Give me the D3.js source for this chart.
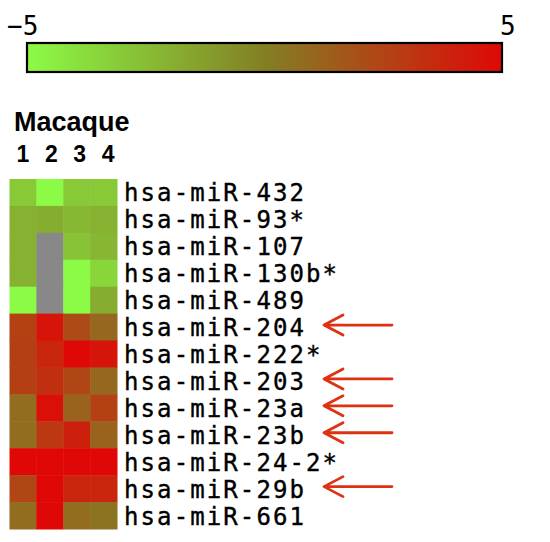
<!DOCTYPE html>
<html>
<head>
<meta charset="utf-8">
<title>Macaque miRNA heatmap</title>
<style>
  body { margin: 0; background: white; }
  svg { display: block; }
  .lbl { font-family: "DejaVu Sans Mono", monospace; font-size: 24px; fill: black; stroke: black; stroke-width: 0.4px; letter-spacing: 2.1px; }
  .title { font-family: "Liberation Sans", Arial, sans-serif; font-weight: bold; fill: black; }
</style>
</head>
<body>
<svg id="chart" width="550" height="542"></svg>
<script src="https://d3js.org/d3.v7.min.js"></script>
<script>
// rows (miRNAs), columns (macaque samples), log ratio values; null = missing
var mirnas = ["hsa-miR-432", "hsa-miR-93*", "hsa-miR-107", "hsa-miR-130b*", "hsa-miR-489",
              "hsa-miR-204", "hsa-miR-222*", "hsa-miR-203", "hsa-miR-23a", "hsa-miR-23b",
              "hsa-miR-24-2*", "hsa-miR-29b", "hsa-miR-661"];
var samples = ["1", "2", "3", "4"];
var values = [
    [-3.0, -5.0, -3.0, -3.0],
    [-2.0, -1.8, -2.3, -2.0],
    [-2.0, null, -2.7, -2.2],
    [-2.0, null, -5.0, -3.5],
    [-5.0, null, -5.0, -1.8],
    [ 2.6,  4.5,  2.2,  1.0],
    [ 2.7,  3.8,  5.0,  4.5],
    [ 2.7,  3.3,  2.4,  1.0],
    [ 0.8,  4.7,  1.2,  2.6],
    [ 0.8,  3.0,  4.0,  1.2],
    [ 5.0,  5.0,  5.0,  5.0],
    [ 2.4,  5.0,  3.8,  3.8],
    [ 0.8,  5.0,  0.8,  0.5]
];
var arrowRows = ["hsa-miR-204", "hsa-miR-203", "hsa-miR-23a", "hsa-miR-23b", "hsa-miR-29b"];
var scaleTicks = [-5, 5];

var svg = d3.select("#chart");

var color = d3.scaleLinear()
    .domain([-5, 0, 5])
    .range(["#8cfb45", "#837f24", "#e00806"])
    .clamp(true);

// colour bar
var bar = d3.scaleLinear().domain([-5, 5]).range([27, 502]);
var defs = svg.append("defs");
var grad = defs.append("linearGradient").attr("id", "grad");
grad.selectAll("stop")
    .data(d3.range(-5, 5.01, 0.5))
    .enter().append("stop")
    .attr("offset", function(d) { return (d + 5) / 10; })
    .attr("stop-color", function(d) { return color(d); });

svg.append("rect")
    .attr("x", bar(-5)).attr("y", 43)
    .attr("width", bar(5) - bar(-5)).attr("height", 29)
    .attr("fill", "url(#grad)")
    .attr("stroke", "black").attr("stroke-width", 2.2);

svg.selectAll(".tick-lbl")
    .data(scaleTicks)
    .enter().append("text")
    .attr("class", "tick-lbl")
    .attr("x", function(d) { return d < 0 ? 7 : 500; })
    .attr("y", 35)
    .style("font-family", "DejaVu Sans Mono, monospace")
    .style("font-size", "26px")
    .text(function(d) { return d < 0 ? "\u22125" : String(d); });

// heatmap
var x = d3.scaleBand().domain(samples).range([9.5, 117]);
var y = d3.scaleBand().domain(mirnas).range([179, 529]);

svg.append("text")
    .attr("class", "title")
    .attr("x", 14).attr("y", 131)
    .style("font-size", "27px")
    .text("Macaque");

svg.selectAll(".col-lbl")
    .data(samples)
    .enter().append("text")
    .attr("class", "title")
    .attr("x", function(d, i) { return x(d) + x.bandwidth() / 2 + i * 1.5; })
    .attr("y", 162)
    .attr("text-anchor", "middle")
    .style("font-size", "23px")
    .text(function(d) { return d; });

var cells = [];
values.forEach(function(row, i) {
    row.forEach(function(v, j) {
        cells.push({ mirna: mirnas[i], sample: samples[j], value: v });
    });
});

svg.append("g")
    .selectAll("rect")
    .data(cells)
    .enter().append("rect")
    .attr("x", function(d) { return x(d.sample); })
    .attr("y", function(d) { return y(d.mirna); })
    .attr("width", x.bandwidth() + 0.5)
    .attr("height", y.bandwidth() + 0.5)
    .attr("fill", function(d) { return d.value === null ? "#888888" : color(d.value); });

svg.append("g")
    .selectAll("text")
    .data(mirnas)
    .enter().append("text")
    .attr("class", "lbl")
    .attr("x", 124)
    .attr("y", function(d) { return y(d) + y.bandwidth() / 2 + 9; })
    .text(function(d) { return d; });

// arrows
var arrows = svg.append("g")
    .attr("fill", "none")
    .attr("stroke", "#dd3312")
    .attr("stroke-width", 2.8)
    .attr("stroke-linecap", "round")
    .attr("stroke-linejoin", "round");

arrows.selectAll("g")
    .data(arrowRows)
    .enter().append("path")
    .attr("d", function(d) {
        var cy = y(d) + y.bandwidth() / 2 - 2;
        return "M392," + cy + "H324" +
               "M343," + (cy - 10) + "L324," + cy + "L343," + (cy + 10);
    });
</script>
</body>
</html>
